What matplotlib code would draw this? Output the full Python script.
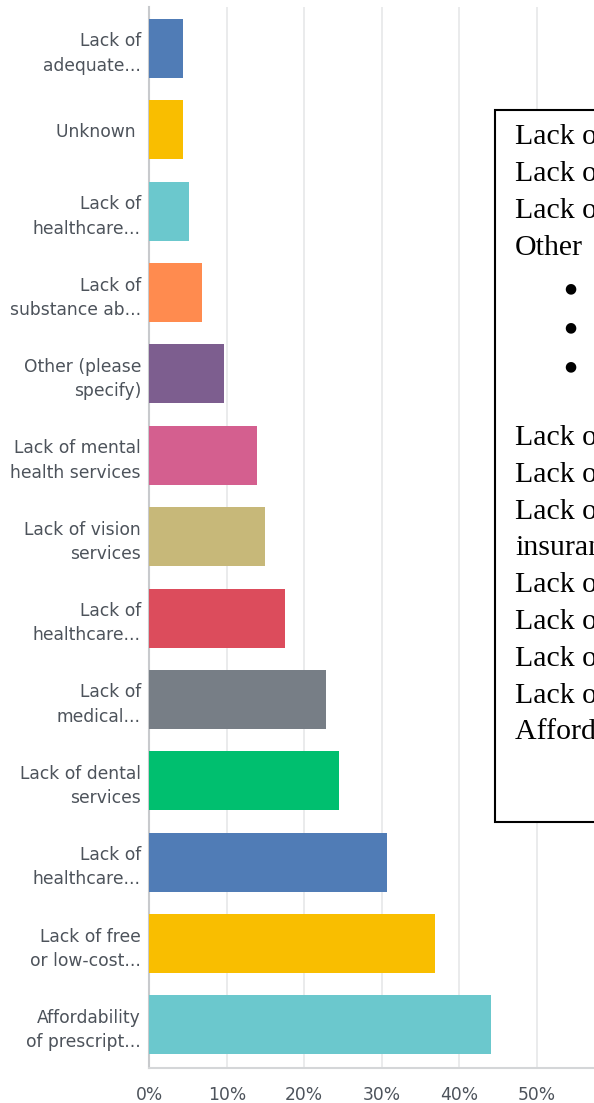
import matplotlib
matplotlib.use("Agg")
import matplotlib.pyplot as plt
from matplotlib.patches import Rectangle

categories = [
    "Lack of\nadequate...",
    "Unknown ",
    "Lack of\nhealthcare...",
    "Lack of\nsubstance ab...",
    "Other (please\nspecify)",
    "Lack of mental\nhealth services",
    "Lack of vision\nservices",
    "Lack of\nhealthcare...",
    "Lack of\nmedical...",
    "Lack of dental\nservices",
    "Lack of\nhealthcare...",
    "Lack of free\nor low-cost...",
    "Affordability\nof prescript...",
]
values = [4.3, 4.3, 5.1, 6.8, 9.6, 13.9, 14.9, 17.5, 22.8, 24.5, 30.7, 36.9, 44.1]
colors = ["#507cb6", "#f9be00", "#6bc8cd", "#ff8b4f", "#7d5e8f", "#d45f8f",
          "#c7b879", "#dc4c5c", "#777e86", "#00bf6f", "#507cb6", "#f9be00", "#6bc8cd"]
xticks = [0, 10, 20, 30, 40, 50, 60]
xticklabels = ["0%", "10%", "20%", "30%", "40%", "50%", "60%"]

box_lines = [
    "Lack of adequate transportation",
    "Lack of healthcare providers",
    "Lack of substance abuse services",
    "Other",
    "\u2022",
    "\u2022",
    "\u2022",
    "",
    "Lack of mental health services",
    "Lack of vision services",
    "Lack of healthcare providers that accept",
    "insurance",
    "Lack of medical specialists",
    "Lack of dental services",
    "Lack of healthcare facilities",
    "Lack of free or low-cost services",
    "Affordability of prescriptions",
]
# vertical pixel centres of the box lines (layout only)
box_line_y = [137, 174, 211, 248, 288, 327, 366, None, 438, 475, 512, 548,
              585, 622, 659, 696, 732]

W, H = 594, 1103
fig = plt.figure(figsize=(W / 100, H / 100), dpi=100)
fig.patch.set_facecolor("white")

x0, x60 = 149.3, 614.3
ytop, ybot = 7, 1068
ax = fig.add_axes([x0 / W, 1 - ybot / H, (x60 - x0) / W, (ybot - ytop) / H])

lab_font = "DejaVu Sans"
lab_color = "#4d535b"

ypos = list(range(len(categories)))
ax.barh(ypos, values, height=0.725, color=colors, zorder=3)
ax.set_ylim(len(categories) - 1 + 0.53, -0.51)
ax.set_xlim(0, 60)
ax.set_xticks(xticks)
ax.set_xticklabels(xticklabels)
ax.set_yticks(ypos)
ax.set_yticklabels(categories, fontfamily=lab_font, fontsize=12.3,
                   color=lab_color, linespacing=1.45, ha="right")
for lab in ax.get_xticklabels():
    lab.set_fontfamily(lab_font)
    lab.set_fontsize(12.3)
    lab.set_color(lab_color)
ax.tick_params(axis="both", length=0)
ax.tick_params(axis="y", pad=6)
ax.tick_params(axis="x", pad=13)
ax.grid(axis="x", color="#e6e7e9", linewidth=1.2, zorder=0)
for s in ["top", "right"]:
    ax.spines[s].set_visible(False)
ax.spines["left"].set_color("#c8cacd")
ax.spines["bottom"].set_color("#d4d6d8")
ax.spines["left"].set_linewidth(1.5)
ax.spines["bottom"].set_linewidth(1.5)

# overlay text box
bx0, by0, by1 = 495, 110, 822
rect = Rectangle((bx0 / W, 1 - by1 / H), (W + 50 - bx0) / W, (by1 - by0) / H,
                 transform=fig.transFigure, facecolor="white", edgecolor="black",
                 linewidth=1.5, zorder=10)
fig.add_artist(rect)

for t, y in zip(box_lines, box_line_y):
    if not t or y is None:
        continue
    if t == "\u2022":
        fig.text(570.5 / W, 1 - y / H, "\u25cf", fontfamily="DejaVu Sans", fontsize=10,
                 va="center", ha="center", color="black", zorder=11)
    else:
        fig.text(515 / W, 1 - y / H, t, fontfamily="Liberation Serif", fontsize=21.5,
                 va="center", ha="left", color="black", zorder=11)

fig.savefig("out.png", dpi=100)
